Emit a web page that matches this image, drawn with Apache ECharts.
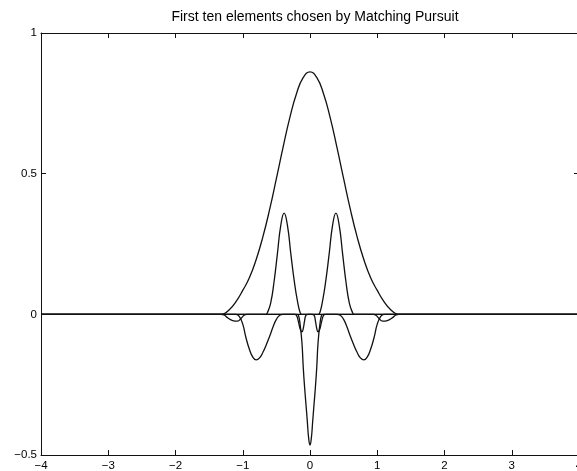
<!DOCTYPE html>
<html>
<head>
<meta charset="utf-8">
<title>First ten elements chosen by Matching Pursuit</title>
<script src="https://cdn.jsdelivr.net/npm/echarts@6/dist/echarts.min.js"></script>
<style>
  html, body { margin: 0; padding: 0; background: #fff; }
  #chart { width: 577px; height: 471px; }
</style>
</head>
<body>
<div id="chart"></div>
<script>
// Axis ticks
const xTicks = [-4, -3, -2, -1, 0, 1, 2, 3, 4];
const yTicks = [-0.5, 0, 0.5, 1];

// Broad envelope atom
const envX = [-4, -1.5, -1.4, -1.32, -1.28, -1.2, -1.1, -1.0, -0.9, -0.8, -0.7, -0.6, -0.5, -0.4, -0.3, -0.2, -0.1, 0,
              0.1, 0.2, 0.3, 0.4, 0.5, 0.6, 0.7, 0.8, 0.9, 1.0, 1.1, 1.2, 1.28, 1.32, 1.4, 1.5, 4];
const envY = [0, 0, 0, 0, 0.002, 0.016, 0.045, 0.085, 0.131, 0.195, 0.276, 0.373, 0.482, 0.594, 0.699, 0.785, 0.842, 0.862,
              0.842, 0.785, 0.699, 0.594, 0.482, 0.373, 0.276, 0.195, 0.131, 0.085, 0.045, 0.016, 0.002, 0, 0, 0, 0];

// Pair of positive lobes
const lobeX = [-4, -0.8, -0.7, -0.655, -0.635, -0.585, -0.535, -0.485, -0.435, -0.385, -0.335, -0.285, -0.235, -0.185, -0.145, -0.12, -0.05,
               0.05, 0.12, 0.145, 0.185, 0.235, 0.285, 0.335, 0.385, 0.435, 0.485, 0.535, 0.585, 0.635, 0.655, 0.7, 0.8, 4];
const lobeY = [0, 0, 0, 0, 0.005, 0.04, 0.115, 0.215, 0.315, 0.36, 0.315, 0.215, 0.12, 0.045, 0.005, 0, 0,
               0, 0, 0.005, 0.045, 0.12, 0.215, 0.315, 0.36, 0.315, 0.215, 0.115, 0.04, 0.005, 0, 0, 0, 0];

// Central spike with its two negative side lobes
const spikeX = [-4, -1.3, -1.2, -1.1, -1.05, -1.0, -0.95, -0.9, -0.85, -0.8, -0.75, -0.7, -0.65, -0.6, -0.55, -0.5, -0.45, -0.4, -0.3,
                -0.22, -0.19, -0.17, -0.15, -0.12, -0.1, -0.08, -0.06, -0.04, -0.02, 0, 0.02, 0.04, 0.06, 0.08, 0.1, 0.12, 0.15, 0.17, 0.19, 0.22,
                0.3, 0.4, 0.45, 0.5, 0.55, 0.6, 0.65, 0.7, 0.75, 0.8, 0.85, 0.9, 0.95, 1.0, 1.05, 1.1, 1.2, 1.3, 4];
const spikeY = [0, 0, 0, 0, -0.008, -0.035, -0.085, -0.125, -0.152, -0.162, -0.155, -0.135, -0.108, -0.078, -0.045, -0.018, -0.003, 0, 0,
                0, 0, -0.005, -0.03, -0.1, -0.19, -0.26, -0.32, -0.38, -0.44, -0.465, -0.44, -0.38, -0.32, -0.26, -0.19, -0.1, -0.03, -0.005, 0, 0,
                0, 0, -0.003, -0.018, -0.045, -0.078, -0.108, -0.135, -0.155, -0.162, -0.152, -0.125, -0.085, -0.035, -0.008, 0, 0, 0, 0];

// Small inner dips
const innerX = [-4, -0.3, -0.23, -0.2, -0.17, -0.145, -0.12, -0.1, -0.08, -0.06, -0.03, 0.03,
                0.06, 0.08, 0.1, 0.12, 0.145, 0.17, 0.2, 0.23, 0.3, 4];
const innerY = [0, 0, 0, -0.004, -0.028, -0.053, -0.062, -0.05, -0.022, -0.003, 0, 0,
                -0.003, -0.022, -0.05, -0.062, -0.053, -0.028, -0.004, 0, 0, 0];

// Small outer dips
const outerX = [-4, -1.4, -1.32, -1.28, -1.22, -1.15, -1.08, -1.02, -0.98, -0.94, -0.85,
                0.85, 0.94, 0.98, 1.02, 1.08, 1.15, 1.22, 1.28, 1.32, 1.4, 4];
const outerY = [0, 0, 0, -0.002, -0.013, -0.022, -0.024, -0.013, -0.003, 0, 0,
                0, 0, -0.003, -0.013, -0.024, -0.022, -0.013, -0.002, 0, 0, 0];

const zip = (xs, ys) => xs.map((x, i) => [x, ys[i]]);
const minus = v => String(v).replace('-', '\u2212');

const curves = [
  zip(envX, envY),
  zip(lobeX, lobeY),
  zip(spikeX, spikeY),
  zip(innerX, innerY),
  zip(outerX, outerY)
];

const font = 'Liberation Sans, Arial, Helvetica, sans-serif';
const ink = '#111';

function xAxisDef(pos, labels) {
  return {
    type: 'value', position: pos, min: xTicks[0], max: xTicks[xTicks.length - 1], interval: 1,
    axisLine: { show: true, onZero: false, lineStyle: { color: ink, width: 1 } },
    axisTick: { show: true, inside: true, length: 5, lineStyle: { color: ink } },
    axisLabel: { show: labels, color: '#000', fontFamily: font, fontSize: 11.5, margin: 5, formatter: minus },
    splitLine: { show: false }
  };
}
function yAxisDef(pos, labels) {
  return {
    type: 'value', position: pos, min: yTicks[0], max: yTicks[yTicks.length - 1], interval: 0.5,
    axisLine: { show: true, onZero: false, lineStyle: { color: ink, width: 1 } },
    axisTick: { show: true, inside: true, length: 5, lineStyle: { color: ink } },
    axisLabel: { show: labels, color: '#000', fontFamily: font, fontSize: 11.5, margin: 4, formatter: minus },
    splitLine: { show: false }
  };
}

const chart = echarts.init(document.getElementById('chart'), null, { renderer: 'canvas' });
chart.setOption({
  backgroundColor: '#fff',
  animation: false,
  title: {
    text: 'First ten elements chosen by Matching Pursuit',
    left: 310, top: 5, textAlign: 'center',
    textStyle: { color: '#000', fontFamily: font, fontSize: 14, fontWeight: 'normal' }
  },
  grid: { left: 41, right: -2, top: 33, bottom: 16, containLabel: false, outerBoundsMode: 'none' },
  xAxis: [xAxisDef('bottom', true), xAxisDef('top', false)],
  yAxis: [yAxisDef('left', true), yAxisDef('right', false)],
  series: curves.map(d => ({
    type: 'line', data: d, xAxisIndex: 0, yAxisIndex: 0,
    smooth: 0.5, showSymbol: false, symbol: 'none', clip: false,
    lineStyle: { color: ink, width: 1.3 }
  }))
});
</script>
</body>
</html>
